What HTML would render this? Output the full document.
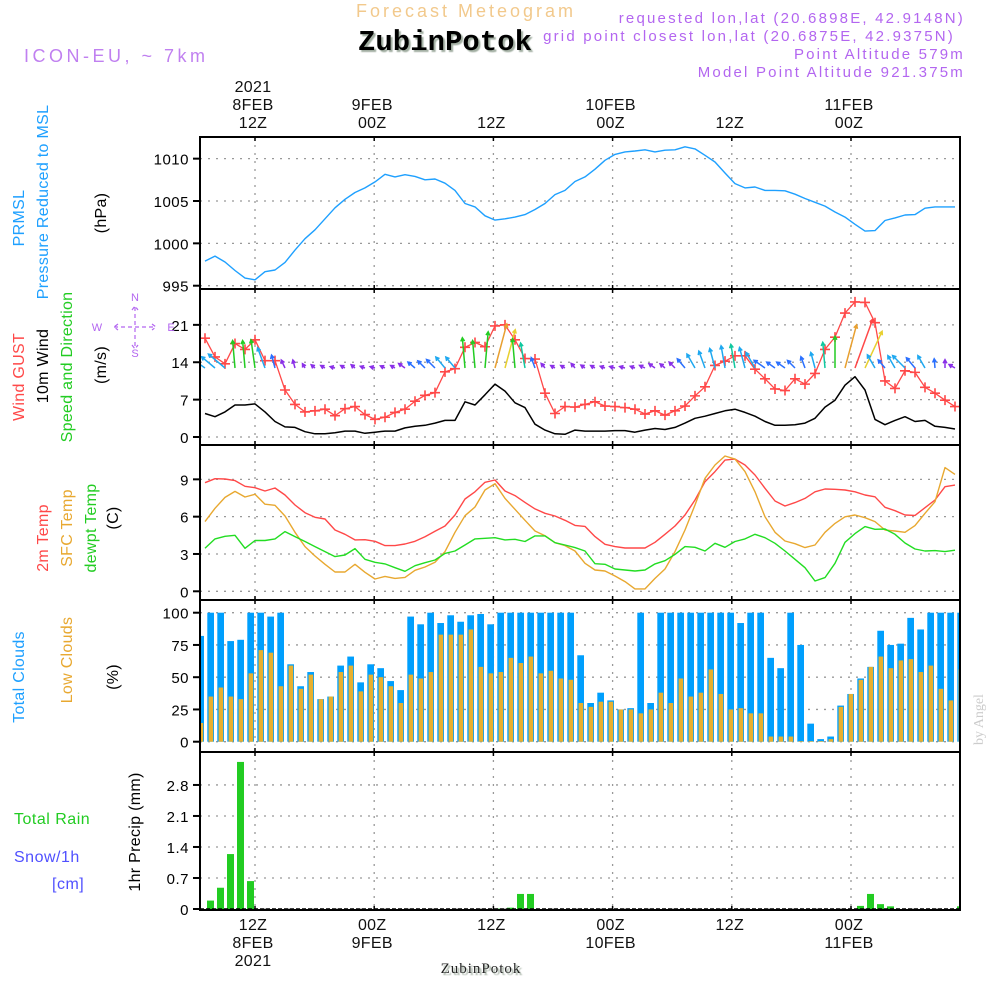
<!DOCTYPE html>
<html><head><meta charset="utf-8"><style>
html,body{margin:0;padding:0;background:#fff;}
svg{display:block;font-family:"Liberation Sans",sans-serif;}
</style></head><body>
<svg id="chart" width="1000" height="1000" viewBox="0 0 1000 1000" xmlns="http://www.w3.org/2000/svg">
<defs>
<clipPath id="cp"><rect x="200" y="137" width="760" height="773"/></clipPath>
<filter id="sh" x="-5%" y="-5%" width="115%" height="130%"><feDropShadow dx="2" dy="2" stdDeviation="0.6" flood-color="#8a9a8a" flood-opacity="0.8"/></filter>
</defs>
<g>
<text x="466" y="17" text-anchor="middle" font-size="18" fill="#f2c98c" letter-spacing="3">Forecast Meteogram</text>
<text x="445" y="50" text-anchor="middle" font-size="29" font-weight="bold" font-family="Liberation Mono, monospace" fill="#000" filter="url(#sh)">ZubinPotok</text>
<text x="24" y="62" font-size="18" fill="#c080f0" letter-spacing="3.5">ICON-EU, ~ 7km</text>
<g font-size="15" fill="#b366f0" text-anchor="end" letter-spacing="2.2">
<text x="965" y="23">requested lon,lat (20.6898E, 42.9148N)</text>
<text x="955" y="41">grid point closest lon,lat (20.6875E, 42.9375N)</text>
<text x="965" y="59">Point Altitude 579m</text>
<text x="965" y="77">Model Point Altitude 921.375m</text>
</g>
</g>
<g id="axes"></g>
<g id="plot" clip-path="url(#cp)"></g>
<g id="frames"></g>
<g id="labels" font-size="15"></g>
<text x="0" y="0" transform="translate(983,745) rotate(-90)" font-family="Liberation Serif, serif" font-size="14" fill="#ccc">by Angel</text>
<text x="481" y="973" text-anchor="middle" font-family="Liberation Serif, serif" font-size="15" fill="#222" filter="url(#sh)" letter-spacing="1">ZubinPotok</text>
</svg>
<script>
// ---- data (hourly, index 0 = 8FEB 07Z) ----
const pressure = [997.9,998.5,997.8,996.8,995.9,995.7,996.65,996.85,997.75,999.2,1000.55,1001.6,1002.9,1004.2,1005.2,1006.0,1006.55,1007.25,1008.15,1007.85,1008.1,1007.9,1007.5,1007.6,1007.1,1006.25,1004.7,1004.3,1003.25,1002.75,1002.9,1003.1,1003.4,1004.0,1004.7,1005.75,1006.25,1007.3,1007.85,1008.75,1009.8,1010.5,1010.8,1010.9,1011.05,1010.8,1011.0,1011.05,1011.4,1011.15,1010.4,1009.6,1008.3,1007.05,1006.55,1006.65,1006.25,1006.25,1006.2,1005.8,1005.3,1004.85,1004.4,1003.7,1003.1,1002.25,1001.45,1001.5,1002.7,1003.0,1003.35,1003.4,1004.15,1004.3,1004.3,1004.3];
const gust = [18.5,15.0,13.7,17.5,16.4,18.2,14.3,14.3,8.8,6.1,4.7,4.9,5.2,4.0,5.3,5.7,4.2,3.3,3.7,4.6,5.2,6.7,7.8,8.3,12.2,12.8,16.8,17.7,16.9,20.8,21.0,18.2,14.7,14.6,8.2,4.4,5.7,5.6,6.1,6.6,5.8,5.7,5.5,5.2,4.3,4.9,4.1,4.9,5.8,7.7,9.4,13.4,14.2,15.2,15.2,12.7,10.9,9.0,8.7,10.9,9.9,11.9,16.4,18.7,23.2,25.3,25.2,21.4,10.5,9.1,12.4,12.1,9.3,8.2,6.9,5.7];
const wind = [4.4,3.8,4.7,6.0,6.0,6.2,4.7,2.9,1.9,1.8,1.0,0.6,0.6,0.8,1.1,1.1,0.7,0.9,1.1,1.1,1.7,2.0,2.2,2.6,3.1,3.1,6.6,6.0,7.9,9.9,8.6,6.4,5.5,2.4,1.3,0.6,0.5,1.3,1.1,1.1,1.1,1.2,1.2,0.9,1.3,1.6,1.4,1.8,2.6,3.5,3.9,4.4,4.9,5.2,4.6,3.9,2.9,2.2,2.2,2.3,2.6,3.5,5.6,6.9,9.7,11.3,8.8,3.3,2.3,3.1,3.8,2.9,3.1,2.0,1.8,1.5];
const windDir = [-55,-50,-50,-5,-5,-8,-20,-15,-25,-15,-30,-50,-60,-75,-60,-50,-70,-75,-65,-60,-55,-50,-45,-45,-40,-40,-5,-5,5,15,15,-5,-10,-20,-40,-60,-60,-40,-55,-60,-70,-75,-75,-70,-65,-55,-50,-45,-40,-30,-20,-15,-10,-10,-15,-30,-55,-55,-55,-45,-20,-15,-5,0,15,20,25,-30,-40,-30,-45,-40,-30,-5,0,-60];
const temp2m = [8.73,9.05,9.03,8.9,8.44,8.33,8.06,8.3,7.74,6.94,6.32,5.95,5.81,4.93,4.58,4.13,4.15,4.02,3.67,3.67,3.8,4.02,4.39,4.82,5.25,6.13,7.42,8.0,8.76,8.95,8.06,7.69,7.15,6.62,6.27,6.05,5.71,5.3,5.22,4.4,3.78,3.59,3.48,3.48,3.48,3.94,4.58,5.25,6.13,7.34,8.81,9.62,10.55,10.63,10.15,9.35,8.28,7.26,6.86,7.13,7.47,8.0,8.22,8.2,8.14,8.0,7.74,7.6,6.75,6.48,6.13,6.1,6.72,7.34,8.41,8.54];
const tempSfc = [5.6,6.67,7.55,8.03,7.58,7.8,7.0,6.91,6.05,4.74,3.59,2.84,2.17,1.55,1.55,2.17,1.53,0.99,1.2,1.04,1.12,1.69,1.95,2.33,3.19,4.74,6.08,6.78,8.14,8.65,7.47,6.59,5.71,4.85,4.47,3.91,3.67,3.24,2.25,1.71,1.63,1.23,0.78,0.19,0.19,1.04,1.79,3.19,4.93,6.94,9.08,10.15,10.88,10.63,9.62,8.0,5.99,4.74,4.04,3.83,3.51,3.72,4.74,5.46,5.99,6.13,5.92,5.6,4.93,4.85,4.74,5.28,6.27,7.2,9.94,9.4];
const dewpt = [3.46,4.21,4.42,4.5,3.46,4.08,4.08,4.21,4.8,4.4,4.0,3.59,3.19,2.79,2.92,3.43,2.57,2.33,2.2,1.9,1.61,2.06,2.3,2.52,3.05,3.24,3.72,4.21,4.26,4.31,4.13,4.18,4.0,4.45,4.45,3.91,3.72,3.51,3.24,2.22,2.17,1.79,1.71,1.63,1.71,2.2,2.46,2.97,3.59,3.54,3.24,3.86,3.54,4.0,4.21,4.58,4.31,3.86,3.24,2.57,1.9,0.83,1.1,2.25,3.94,4.64,5.2,4.98,5.01,4.58,3.88,3.4,3.24,3.27,3.19,3.3];
// bars: index 0 = 8FEB 06Z (one hour before the lines)
const totalClouds = [82,100,100,78,79,100,100,97,100,60,43,54,33,35,59,66,46,60,57,47,40,97,91,100,92,98,93,98,99,91,100,100,100,100,100,100,100,100,67,30,38,32,25,26,100,30,100,100,100,100,100,100,100,100,92,100,100,65,57,100,75,14,2,4,28,37,49,58,86,75,76,96,87,100,100,100,100];
const lowClouds = [14.5,35,42,35,33,53,71,69,43,59,41,52,33,35,54,59,39,52,50,43,30,52,49,54,83,83,83,87,58,53,54,65,61,66,53,55,49,48,30,27,31,31,25,25,22,25,38,30,49,35,38,56,37,25,26,22,22,4,4,4,0.5,0.5,0.5,2,27,37,48,58,66,57,63,64,54,59,41,32,56];
const precip = [0,0.19,0.48,1.24,3.32,0.63,0,0,0,0,0,0,0,0,0,0,0,0,0,0,0,0,0,0,0,0,0,0,0,0,0.01,0.03,0.34,0.34,0,0,0,0,0,0,0,0,0,0,0,0,0,0,0,0,0,0,0,0,0,0,0,0,0,0,0,0,0,0,0,0,0.07,0.34,0.11,0.06,0,0,0,0,0,0,0.06];
const pTicks = [995,1000,1005,1010];
const wTicks = [0,7,14,21];
const tTicks = [0,3,6,9];
const cTicks = [0,25,50,75,100];
const rTicks = [0,0.7,1.4,2.1,2.8];
const timeTop = [["2021","8FEB","12Z"],["","9FEB","00Z"],["","","12Z"],["","10FEB","00Z"],["","","12Z"],["","11FEB","00Z"]];
const timeBottom = [["12Z","8FEB","2021"],["00Z","9FEB",""],["12Z","",""],["00Z","10FEB",""],["12Z","",""],["00Z","11FEB",""]];

// ---- scales ----
const X0 = 200, X1 = 960;
const xs = i => 205 + 10*i;
const xb = i => 196 + 10*i;
const gridX = k => 255 + 119.2*k;
const yP = v => 285.7 - (v-995)*8.47;
const yW = v => 437 - v*5.34;
const yT = v => 591.3 - v*12.44;
const yC = v => 741.7 - v*1.29;
const yR = v => 909 - v*44.3;
const panels = [[137,289],[289,445],[445,600],[600,752],[752,910]];

const NS = 'http://www.w3.org/2000/svg';
function mk(tag, attrs, parent){const e=document.createElementNS(NS,tag);for(const k in attrs)e.setAttribute(k,attrs[k]);parent.appendChild(e);return e;}
const axes=document.getElementById('axes'), plot=document.getElementById('plot'), frames=document.getElementById('frames'), labels=document.getElementById('labels');

panels.forEach((p,pi)=>{
  for(let k=0;k<6;k++){
    const l=mk('line',{x1:gridX(k),x2:gridX(k),y1:p[0],y2:p[1],stroke:'#999','stroke-width':1.3,'stroke-dasharray':'2,6'},axes);
    
    
    mk('line',{x1:gridX(k),x2:gridX(k),y1:p[0],y2:p[0]+4,stroke:'#000','stroke-width':1.5},axes);
    mk('line',{x1:gridX(k),x2:gridX(k),y1:p[1]-4,y2:p[1],stroke:'#000','stroke-width':1.5},axes);
  }
});
function yGrid(ticks, yf, name){
  ticks.forEach(t=>{
    const y=yf(t);
    const g=mk('line',{x1:X0,x2:X1,y1:y,y2:y,stroke:'#999','stroke-width':1.3,'stroke-dasharray':'2,6'},axes);
    
    
    mk('line',{x1:193,x2:201,y1:y,y2:y,stroke:'#000','stroke-width':2},axes);
    const tx=mk('text',{x:189,y:y+6,'text-anchor':'end','font-size':15,fill:'#000','letter-spacing':'0.5'},axes);
    tx.textContent=String(t);
    
    
  });
}
yGrid(pTicks,yP,'pressure'); yGrid(wTicks,yW,'wind'); yGrid(tTicks,yT,'temp'); yGrid(cTicks,yC,'cloud'); yGrid(rTicks,yR,'precip');

totalClouds.forEach((v,i)=>{
  const r=mk('rect',{x:xb(i)+1.3,y:yC(v),width:6.7,height:yC(0)-yC(v),fill:'#009ffd'},plot);
  
  
});
lowClouds.forEach((v,i)=>{
  const r=mk('rect',{x:xb(i)+2.6,y:yC(v),width:4.6,height:yC(0)-yC(v),fill:'#e8b02e'},plot);
  
  
});
precip.forEach((v,i)=>{
  if(v<=0) return;
  const r=mk('rect',{x:xb(i)+1,y:yR(v),width:7,height:yR(0)-yR(v),fill:'#22cc22'},plot);
  
  
});
mk('line',{x1:X0,x2:X1,y1:yR(0),y2:yR(0),stroke:'#000','stroke-width':1.5,'stroke-dasharray':'4,2'},plot);

function line(arr, xf, yf, color, name, w){
  const d=arr.map((v,i)=>(i?'L':'M')+xf(i).toFixed(1)+','+yf(v).toFixed(1)).join('');
  const p=mk('path',{d:d,fill:'none',stroke:color,'stroke-width':w||1.4,'stroke-linejoin':'round'},plot);
  
  
}
line(pressure,xs,yP,'#1ea0ff','pressure-line');
line(wind,xs,yW,'#000','wind-speed-line',1.5);
line(gust,xs,yW,'#ff4848','wind-gust-line',1.3);
gust.forEach((v,i)=>{
  const x=xs(i), y=yW(v);
  const m=mk('path',{d:`M${x-5},${y}H${x+5}M${x},${y-5}V${y+5}`,stroke:'#ff4848','stroke-width':1.6},plot);
  
  
});
function windColor(s){
  if(s>=10) return '#ff4848'; if(s>=9) return '#e8a030'; if(s>=8) return '#e8d030';
  if(s>=6) return '#22cc22'; if(s>=5) return '#10c8a0'; if(s>=3) return '#1ea8f0';
  if(s>=2) return '#2a70ff'; return '#8a30e8';
}
wind.forEach((s,i)=>{
  const len=Math.max(5,4.6*s), a=windDir[i]*Math.PI/180;
  const x0=xs(i), y0=368;
  const x1=x0+len*Math.sin(a), y1=y0-len*Math.cos(a);
  const h=4, c=windColor(s);
  const ax1=x1-h*Math.sin(a-0.5), ay1=y1+h*Math.cos(a-0.5);
  const ax2=x1-h*Math.sin(a+0.5), ay2=y1+h*Math.cos(a+0.5);
  const p=mk('path',{d:`M${x0},${y0}L${x1},${y1}M${ax1},${ay1}L${x1},${y1}L${ax2},${ay2}`,stroke:c,'stroke-width':1.5,fill:'none'},plot);
  
  
});
line(temp2m,xs,yT,'#ff4848','temp-2m-line');
line(tempSfc,xs,yT,'#e8a830','temp-sfc-line');
line(dewpt,xs,yT,'#22dd22','dewpoint-line');

panels.forEach((p,pi)=>{
  const r=mk('rect',{x:X0,y:p[0],width:X1-X0,height:p[1]-p[0],fill:'none',stroke:'#000','stroke-width':2},frames);
  
  
});

timeTop.forEach((t,k)=>{
  t.forEach((s,j)=>{ if(!s) return;
    const tx=mk('text',{x:gridX(k)-2,y:92+j*18,'text-anchor':'middle','font-size':16,fill:'#111','letter-spacing':'0.3'},labels);
    tx.textContent=s;
    
    
  });
});
timeBottom.forEach((t,k)=>{
  t.forEach((s,j)=>{ if(!s) return;
    const tx=mk('text',{x:gridX(k)-2,y:930+j*18,'text-anchor':'middle','font-size':16,fill:'#111','letter-spacing':'0.3'},labels);
    tx.textContent=s;
    
    
  });
});

const vt=[
 ['PRMSL',24,218,'#1ea0ff'],['Pressure Reduced to MSL',48,202,'#1ea0ff'],['(hPa)',106,213,'#000'],
 ['Wind GUST',24,377,'#ff4848'],['10m Wind',48,366,'#000'],['Speed and Direction',72,367,'#22cc22'],['(m/s)',106,365,'#000'],
 ['2m Temp',48,538,'#ff4848'],['SFC Temp',72,528,'#e8a830'],['dewpt Temp',96,528,'#22cc22'],['(C)',118,518,'#000'],
 ['Total Clouds',24,677,'#1ea0ff'],['Low Clouds',72,660,'#e8a830'],['(%)',118,677,'#000'],
 ['1hr Precip (mm)',140,832,'#000']
];
vt.forEach(v=>{
  const tx=mk('text',{x:0,y:0,transform:`translate(${v[1]},${v[2]}) rotate(-90)`,'text-anchor':'middle','font-size':16,fill:v[3],'letter-spacing':'0.3'},labels);
  tx.textContent=v[0];
  
  
});
const ht=[['Total   Rain',14,824,'#22cc22'],['Snow/1h',14,862,'#5050ff'],['[cm]',52,889,'#5050ff']];
ht.forEach(v=>{
  const tx=mk('text',{x:v[1],y:v[2],'font-size':16,fill:v[3],'letter-spacing':'0.5','xml:space':'preserve'},labels);
  tx.textContent=v[0];
  
  
});
const cg=mk('g',{fill:'#b366f0',stroke:'none','font-size':11},labels);


[['N',135,301],['W',97,331],['E',171,331],['S',135,357]].forEach(c=>{const t=mk('text',{x:c[1],y:c[2],'text-anchor':'middle'},cg);t.textContent=c[0];});
mk('path',{d:'M114,327H156M135,307V348M118,324L114,327L118,330M152,324L156,327L152,330M132,310L135,306L138,310M132,345L135,349L138,345',stroke:'#b366f0','stroke-width':1.2,fill:'none','stroke-dasharray':'4,3'},cg);
</script>
</body></html>
